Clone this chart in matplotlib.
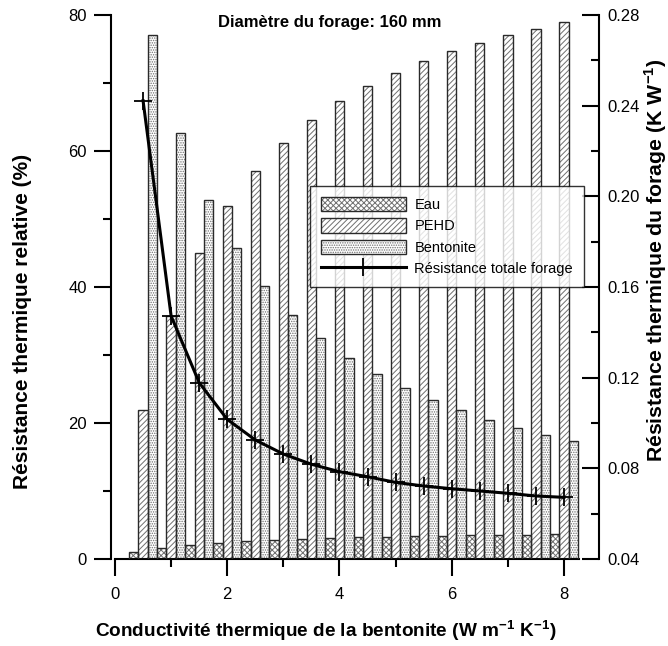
import numpy as np
import matplotlib
matplotlib.use("Agg")
import matplotlib.pyplot as plt
from matplotlib.ticker import MultipleLocator, FormatStrFormatter

plt.rcParams['font.family'] = ['Liberation Sans', 'DejaVu Sans']
plt.rcParams['mathtext.fontset'] = 'custom'
plt.rcParams['mathtext.rm'] = 'Liberation Sans'
plt.rcParams['mathtext.bf'] = 'Liberation Sans:bold'
plt.rcParams['hatch.linewidth'] = 0.7

# ---- data ----
conductivity = [0.5, 1.0, 1.5, 2.0, 2.5, 3.0, 3.5, 4.0, 4.5, 5.0, 5.5, 6.0, 6.5, 7.0, 7.5, 8.0]
eau = [1.0, 1.57, 2.06, 2.35, 2.6, 2.79, 2.94, 3.04, 3.2, 3.28, 3.38, 3.43, 3.5, 3.53, 3.58, 3.68]
pehd = [21.9, 35.7, 45.0, 51.9, 57.1, 61.2, 64.5, 67.3, 69.6, 71.5, 73.2, 74.7, 75.9, 77.0, 78.0, 78.9]
bentonite = [77.0, 62.7, 52.8, 45.7, 40.2, 35.9, 32.5, 29.6, 27.2, 25.1, 23.4, 21.9, 20.5, 19.3, 18.3, 17.3]
resistance_totale = [0.2422, 0.1472, 0.1178, 0.1016, 0.0925, 0.0863, 0.0818, 0.0785,
                     0.0763, 0.0738, 0.0722, 0.0710, 0.0700, 0.0690, 0.0678, 0.0672]

series_names = ['Eau', 'PEHD', 'Bentonite', 'Résistance totale forage']
title_text = 'Diamètre du forage: 160 mm'
xlabel_text = r'Conductivité thermique de la bentonite (W m$^{\mathbf{-1}}$ K$^{\mathbf{-1}}$)'
ylabel_left = 'Résistance thermique relative (%)'
ylabel_right = r'Résistance thermique du forage (K W$^{\mathbf{-1}}$)'

W, H = 668, 646
fig = plt.figure(figsize=(W / 100, H / 100), dpi=100)
ax = fig.add_axes([110.7 / W, 1 - 559 / H, (599.3 - 110.7) / W, (559 - 15) / H])

x = np.array(conductivity)
bw = 1.0 / 6.0
hatch_col = '#707070'
edge_col = '#2a2a2a'

specs = [(eau, -bw, 'xxxxxx'), (pehd, 0.0, '//////'), (bentonite, bw, '.......')]
handles = []
for vals, off, hatch in specs:
    hb = ax.bar(x + off, vals, width=bw, color='white', edgecolor=hatch_col,
                hatch=hatch, linewidth=0, zorder=2)
    ob = ax.bar(x + off, vals, width=bw, fill=False, edgecolor=edge_col,
                linewidth=1.0, zorder=3)
    handles.append((hb.patches[0], ob.patches[0]))

ax.set_xlim(-0.0766, 8.629)
ax.set_ylim(0, 80)
ax.spines['top'].set_visible(False)
ax.spines['right'].set_visible(False)
ax.spines['bottom'].set_bounds(0, 8.27)
ax.spines['left'].set_linewidth(1.5)
ax.spines['bottom'].set_linewidth(1.5)

ax.xaxis.set_major_locator(MultipleLocator(2))
ax.xaxis.set_minor_locator(MultipleLocator(1))
ax.yaxis.set_major_locator(MultipleLocator(20))
ax.yaxis.set_minor_locator(MultipleLocator(10))
ax.tick_params(axis='both', which='major', direction='out', length=12, width=1.5,
               labelsize=12)
ax.tick_params(axis='both', which='minor', direction='out', length=6, width=1.5)
ax.tick_params(axis='x', which='major', pad=8)
ax.tick_params(axis='y', which='major', pad=5)

ax2 = ax.twinx()
ax2.set_ylim(0.04, 0.28)
for s in ['top', 'left', 'bottom']:
    ax2.spines[s].set_visible(False)
ax2.spines['right'].set_linewidth(1.5)
ax2.yaxis.set_major_locator(MultipleLocator(0.04))
ax2.yaxis.set_minor_locator(MultipleLocator(0.02))
ax2.yaxis.set_major_formatter(FormatStrFormatter('%.2f'))
ax2.tick_params(axis='y', which='major', direction='in', length=12, width=1.5,
                labelsize=12, pad=6)
ax2.tick_params(axis='y', which='minor', direction='in', length=6, width=1.5)

line, = ax2.plot(x, resistance_totale, color='black', linewidth=2.2,
                 marker='+', markersize=13, markeredgewidth=1.3, zorder=5)

fig.text(218 / W, 1 - 22.5 / H, title_text, fontsize=12, fontweight='bold',
         ha='left', va='center')
fig.text(326 / W, 1 - 631 / H, xlabel_text, fontsize=13.7, fontweight='bold',
         ha='center', va='center')
fig.text(22.5 / W, 1 - 321 / H, ylabel_left, fontsize=15, fontweight='bold',
         ha='center', va='center', rotation=90)
fig.text(656 / W, 1 - 260 / H, ylabel_right, fontsize=15.3, fontweight='bold',
         ha='center', va='center', rotation=90)

leg = fig.legend(handles + [line], series_names, loc='upper left',
                 bbox_to_anchor=(310 / W, 1 - 186 / H), fontsize=10.5,
                 handlelength=5.8, handleheight=1.15, labelspacing=0.42,
                 handletextpad=0.6, borderpad=0.75, borderaxespad=0,
                 fancybox=False, frameon=True)
leg.get_frame().set_edgecolor('black')
leg.get_frame().set_linewidth(1.0)

fig.savefig('out.png', dpi=100)
